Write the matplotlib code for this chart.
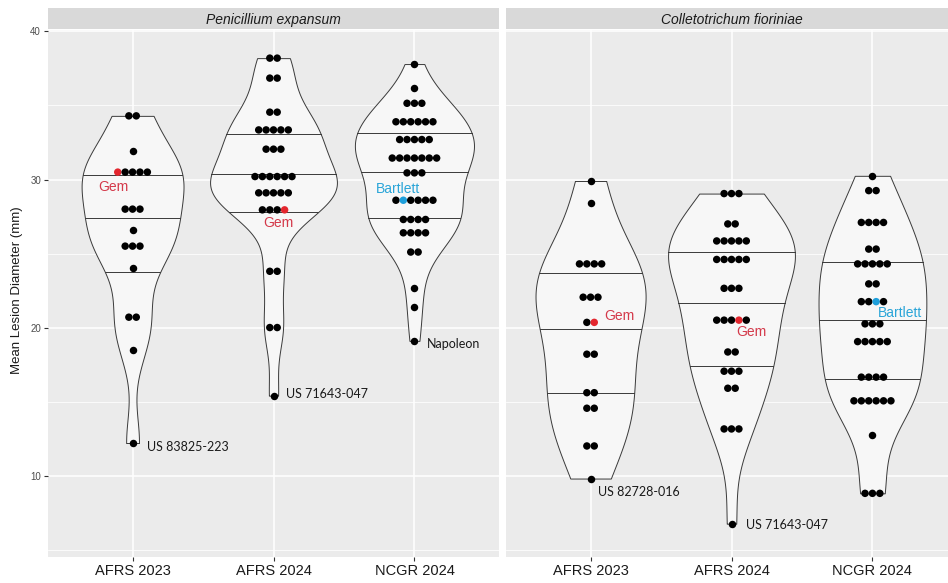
import numpy as np
import matplotlib
matplotlib.use("Agg")
import matplotlib.pyplot as plt

# ---------------- data ----------------
categories = ["AFRS 2023", "AFRS 2024", "NCGR 2024"]
panels = ["Penicillium expansum", "Colletotrichum fioriniae"]
yticks = [10, 20, 30, 40]

# Penicillium expansum: dot rows (value, number of accessions)
pe_afrs23_vals = [34.3, 31.9, 30.5, 28.0, 26.6, 25.5, 24.0, 20.7, 18.5, 12.2]
pe_afrs23_cnts = [2, 1, 5, 3, 1, 3, 1, 2, 1, 1]
pe_afrs24_vals = [38.2, 36.85, 34.55, 33.35, 32.05, 30.2, 29.1, 27.95, 23.8, 20.0, 15.4]
pe_afrs24_cnts = [2, 2, 2, 5, 3, 6, 5, 4, 2, 2, 1]
pe_ncgr24_vals = [37.8, 36.2, 35.15, 33.9, 32.7, 31.45, 30.45, 28.6, 27.3, 26.4, 25.1, 22.7, 21.4, 19.1]
pe_ncgr24_cnts = [1, 1, 3, 6, 5, 7, 3, 6, 4, 4, 2, 1, 1, 1]

# Colletotrichum fioriniae
cf_afrs23_vals = [29.9, 28.4, 24.3, 22.05, 20.35, 18.2, 15.6, 14.55, 12.0, 9.8]
cf_afrs23_cnts = [1, 1, 4, 3, 2, 2, 2, 2, 2, 1]
cf_afrs24_vals = [29.05, 27.0, 25.85, 24.6, 22.65, 20.5, 18.35, 17.05, 15.9, 13.15, 6.75]
cf_afrs24_cnts = [3, 2, 5, 5, 3, 5, 2, 3, 2, 3, 1]
cf_ncgr24_vals = [30.25, 29.25, 27.1, 25.3, 24.3, 22.95, 21.75, 20.25, 19.05, 16.65, 15.05, 12.75, 8.8]
cf_ncgr24_cnts = [1, 2, 4, 2, 5, 2, 4, 3, 5, 4, 6, 1, 3]

# highlighted cultivars: (panel, category index, row value, position in row, name)
highlights = [
    (0, 0, 30.5, 0, "Gem"),
    (0, 1, 27.95, 3, "Gem"),
    (0, 2, 28.6, 1, "Bartlett"),
    (1, 0, 20.35, 1, "Gem"),
    (1, 1, 20.5, 3, "Gem"),
    (1, 2, 21.75, 2, "Bartlett"),
]
# labelled extreme accessions: (panel, category index, value, label)
extremes = [
    (0, 0, 12.2, "US 83825-223"),
    (0, 1, 15.4, "US 71643-047"),
    (0, 2, 19.1, "Napoleon"),
    (1, 0, 9.8, "US 82728-016"),
    (1, 1, 6.75, "US 71643-047"),
]

groups = [
    [(pe_afrs23_vals, pe_afrs23_cnts), (pe_afrs24_vals, pe_afrs24_cnts), (pe_ncgr24_vals, pe_ncgr24_cnts)],
    [(cf_afrs23_vals, cf_afrs23_cnts), (cf_afrs24_vals, cf_afrs24_cnts), (cf_ncgr24_vals, cf_ncgr24_cnts)],
]

# ---------------- style ----------------
W, H = 948, 583
fig = plt.figure(figsize=(W / 100, H / 100), dpi=100)
plt.rcParams['font.family'] = ['Liberation Sans', 'DejaVu Sans']

panel_bg = "#EBEBEB"
strip_bg = "#D9D9D9"
violin_fill = "#F7F7F7"
edge = "#3A3A3A"
hl_dot = {"Gem": "#E3262E", "Bartlett": "#1E9FDB"}
hl_txt = {"Gem": "#D4394A", "Bartlett": "#2AA5D8"}

ax_bottom_px, ax_top_px = 557, 30
panel_x = [(48, 499), (506, 957)]
strip_h = 21

ylim = (4.5, 40.1)
xlim = (0.4, 3.6)

hl_offsets = [(-4, -15, 'center'), (-6, -13, 'center'), (-5, 11, 'center'),
              (10, 6, 'left'), (12, -12, 'center'), (24, -11, 'center')]
ex_offsets = [(14, -4), (12, 2), (12, -3), (7, -13), (14, -1)]


def kde(x):
    x = np.asarray(x, float)
    n = len(x)
    sd = x.std(ddof=1)
    q75, q25 = np.percentile(x, [75, 25])
    bw = 0.9 * min(sd, (q75 - q25) / 1.34) * n ** -0.2
    ys = np.linspace(x.min(), x.max(), 512)
    d = np.exp(-0.5 * ((ys[:, None] - x[None, :]) / bw) ** 2).sum(1) / (n * bw * np.sqrt(2 * np.pi))
    return ys, d


dot_px = 7.4
axes = []
for p in range(2):
    x0, x1 = panel_x[p]
    ax = fig.add_axes([x0 / W, (H - ax_bottom_px) / H, (x1 - x0) / W, (ax_bottom_px - ax_top_px) / H])
    axes.append(ax)
    ax.set_facecolor(panel_bg)
    ax.set_xlim(*xlim)
    ax.set_ylim(*ylim)
    for s in ax.spines.values():
        s.set_visible(False)
    ax.set_yticks(yticks)
    ax.set_yticks([5, 15, 25, 35], minor=True)
    ax.set_xticks([1, 2, 3])
    ax.set_xticklabels(categories, fontsize=10.5, color="#1A1A1A")
    ax.grid(True, which='major', color='white', linewidth=1.1)
    ax.grid(True, which='minor', axis='y', color='white', linewidth=0.55)
    ax.set_axisbelow(True)
    ax.tick_params(axis='both', which='major', length=3, width=0.8, color="#333333")
    ax.tick_params(axis='y', which='minor', length=0)
    ax.tick_params(axis='x', pad=2)
    if p == 0:
        ax.set_yticklabels([str(t) for t in yticks], fontsize=7, color="#4D4D4D")
        ax.tick_params(axis='y', pad=2)
    else:
        ax.tick_params(axis='y', which='major', length=0, labelleft=False)

    # strip
    sax = fig.add_axes([x0 / W, (H - ax_top_px + 1) / H, (x1 - x0) / W, strip_h / H])
    sax.set_facecolor(strip_bg)
    sax.set_xticks([]); sax.set_yticks([])
    for s in sax.spines.values():
        s.set_visible(False)
    sax.text(0.5, 0.45, panels[p], transform=sax.transAxes, ha='center', va='center',
             fontsize=10, style='italic', color="#1A1A1A")

    # violins (area-scaled within the panel)
    dens = []
    for (vals, cnts) in groups[p]:
        data = np.repeat(vals, cnts)
        dens.append(kde(data))
    dmax = max(d.max() for _, d in dens)

    px_per_unit = (x1 - x0) / (xlim[1] - xlim[0])
    dx = dot_px / px_per_unit
    for i, (vals, cnts) in enumerate(groups[p]):
        c = i + 1
        ys, d = dens[i]
        hw = 0.45 * d / dmax
        ax.fill_betweenx(ys, c - hw, c + hw, facecolor=violin_fill, edgecolor=edge,
                         linewidth=0.7, zorder=2)
        cdf = np.cumsum(d) / d.sum()
        for q in (0.25, 0.5, 0.75):
            yq = np.interp(q, cdf, ys)
            wq = np.interp(yq, ys, hw)
            ax.plot([c - wq, c + wq], [yq, yq], color=edge, linewidth=0.7, zorder=3)
        # dots
        for v, n in zip(vals, cnts):
            xs = c + (np.arange(n) - (n - 1) / 2) * dx
            colors = ['black'] * n
            for (hp, hc, hv, hpos, name) in highlights:
                if hp == p and hc == i and hv == v:
                    colors[hpos] = hl_dot[name]
            ax.scatter(xs, [v] * n, s=29, c=colors, linewidths=0, zorder=4)

    for k, (hp, hc, hv, hpos, name) in enumerate(highlights):
        if hp != p:
            continue
        vals, cnts = groups[hp][hc]
        n = cnts[vals.index(hv)]
        xh = hc + 1 + (hpos - (n - 1) / 2) * dx
        ox, oy, ha = hl_offsets[k]
        ax.annotate(name, (xh, hv), xytext=(ox, -oy if False else oy), textcoords='offset pixels',
                    ha=ha, va='center', fontsize=10, color=hl_txt[name], zorder=5)

    for k, (ep, ec, ev, lab) in enumerate(extremes):
        if ep != p:
            continue
        ox, oy = ex_offsets[k]
        ax.annotate(lab, (ec + 1, ev), xytext=(ox, oy), textcoords='offset pixels',
                    ha='left', va='center', fontsize=9, color="#1A1A1A",
                    family=['Lato', 'DejaVu Sans'], zorder=5)

fig.text(17 / W, (H - 290) / H, "Mean Lesion Diameter (mm)", rotation=90,
         ha='center', va='center', fontsize=9.5, color="#1A1A1A")

fig.savefig("out.png", dpi=100)
